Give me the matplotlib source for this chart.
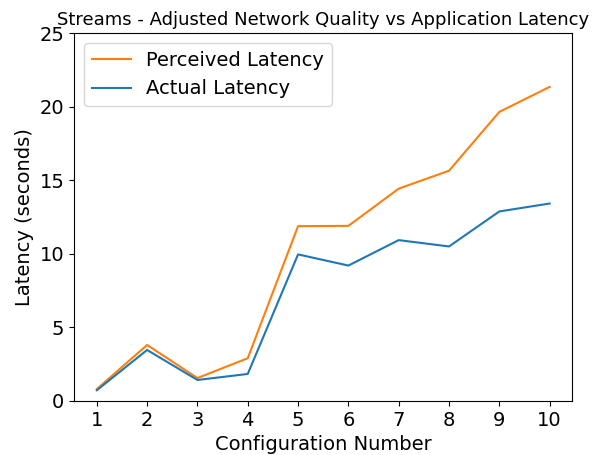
import matplotlib
matplotlib.use("Agg")
import matplotlib.pyplot as plt

configs = [1, 2, 3, 4, 5, 6, 7, 8, 9, 10]
perceived = [0.8, 3.8, 1.55, 2.9, 11.88, 11.9, 14.43, 15.65, 19.65, 21.35]
actual = [0.72, 3.46, 1.42, 1.83, 9.96, 9.2, 10.93, 10.5, 12.88, 13.42]

fig = plt.figure(figsize=(5.98, 4.55), dpi=100)
ax = fig.add_subplot(111)
fig.subplots_adjust(left=0.124, right=0.957, top=0.927, bottom=0.119)

ax.plot(configs, perceived, color='tab:orange', label='Perceived Latency')
ax.plot(configs, actual, color='tab:blue', label='Actual Latency')

ax.set_ylim(0, 25)
ax.set_xticks(configs)
ax.tick_params(labelsize=14)
ax.set_xlabel('Configuration Number', fontsize=14)
ax.set_ylabel('Latency (seconds)', fontsize=14)
ax.set_title('Streams - Adjusted Network Quality vs Application Latency', fontsize=13)
ax.legend(loc='upper left', fontsize=14)

fig.savefig('out.png', dpi=100)
